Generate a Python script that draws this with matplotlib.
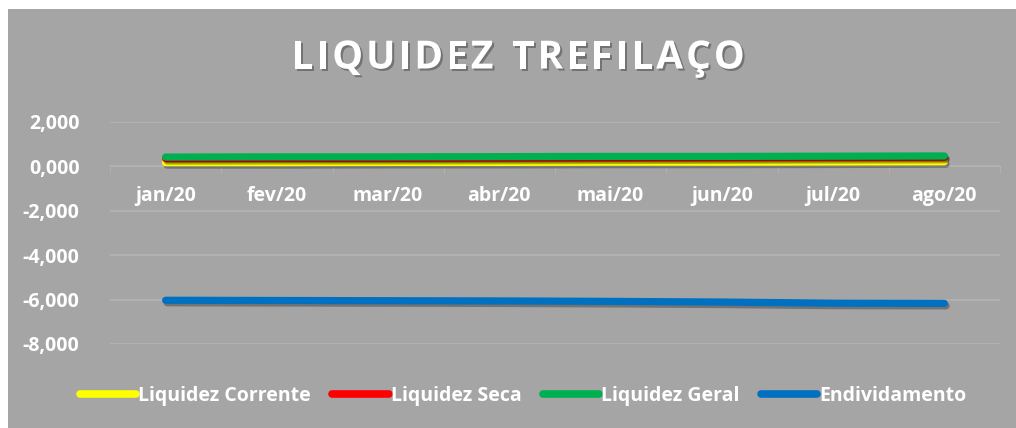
import numpy as np
import matplotlib.pyplot as plt
import matplotlib.patheffects as pe
from matplotlib.ticker import FuncFormatter, FixedLocator

plt.rcParams['font.family'] = ['Open Sans', 'DejaVu Sans']

# dados
titulo = 'LIQUIDEZ TREFILAÇO'
meses = ['jan/20', 'fev/20', 'mar/20', 'abr/20', 'mai/20', 'jun/20', 'jul/20', 'ago/20']
liq_corrente = [0.17, 0.17, 0.18, 0.18, 0.19, 0.19, 0.20, 0.21]
liq_seca = [0.35, 0.36, 0.36, 0.37, 0.38, 0.39, 0.40, 0.41]
liq_geral = [0.42, 0.43, 0.43, 0.44, 0.45, 0.45, 0.46, 0.47]
endividamento = [-6.03, -6.04, -6.05, -6.06, -6.08, -6.11, -6.16, -6.17]

cinza = '#A5A5A5'
fig = plt.figure(figsize=(10.16, 4.28), dpi=100, facecolor='white')
fig.patches.append(plt.Rectangle((8/1016, 0), 1, 1 - 9/428, transform=fig.transFigure,
                                 facecolor=cinza, edgecolor='none', zorder=-1))

ax = fig.add_axes([110/1016, 1 - 344/428, 890/1016, 222/428])
ax.set_facecolor('none')

x = np.arange(len(meses))
sombra = [pe.SimpleLineShadow(offset=(1.2, -1.8), shadow_color='black', alpha=0.3), pe.Normal()]
series = [(liq_corrente, '#FFFF00', 'Liquidez Corrente'),
          (liq_seca, '#FF0000', 'Liquidez Seca'),
          (liq_geral, '#00B050', 'Liquidez Geral'),
          (endividamento, '#0070C0', 'Endividamento')]
for vals, cor, nome in series:
    ax.plot(x, vals, color=cor, lw=5.2, solid_capstyle='round', label=nome, path_effects=sombra, zorder=3)

ax.set_xlim(-0.5, len(meses) - 0.5)
ax.set_ylim(-8, 2)
ax.set_yticks([2, 0, -2, -4, -6, -8])
ax.yaxis.set_major_formatter(FuncFormatter(lambda v, p: ('%.3f' % v).replace('.', ',').replace('-0,000', '0,000')))
ax.grid(axis='y', color='#B4B4B4', lw=1.2)
ax.set_axisbelow(True)

for s in ['top', 'right', 'left']:
    ax.spines[s].set_visible(False)
ax.spines['bottom'].set_position(('data', 0))
ax.spines['bottom'].set_color('#B4B4B4')

ax.set_xticks(x)
ax.set_xticklabels(meses)
ax.xaxis.set_minor_locator(FixedLocator(np.arange(-0.5, len(meses), 1)))
ax.tick_params(axis='x', which='major', length=0, pad=14, labelsize=14, labelcolor='white')
ax.tick_params(axis='x', which='minor', length=5, color='#B4B4B4', direction='out')
ax.tick_params(axis='y', length=0, pad=22, labelsize=14, labelcolor='white')
for lb in ax.get_xticklabels() + ax.get_yticklabels():
    lb.set_fontweight('bold')

# titulo com espacamento entre letras
r = fig.canvas.get_renderer()
sombra_txt = [pe.withSimplePatchShadow(offset=(1.5, -1.5), shadow_rgbFace='black', alpha=0.3)]
larg = []
for c in titulo:
    t = fig.text(0, 0, c if c != ' ' else 'I', fontsize=28, fontweight='bold')
    larg.append(t.get_window_extent(r).width)
    t.remove()
espaco = 3.0
total = sum(larg) + espaco * (len(titulo) - 1)
px = 1036 / 2 - total / 2
for c, w in zip(titulo, larg):
    if c != ' ':
        fig.text(px / 1016, 1 - 58/428, c, ha='left', va='center', color='white',
                 fontsize=28, fontweight='bold', path_effects=sombra_txt)
    px += w + espaco

leg = fig.legend(loc='center', bbox_to_anchor=(0.515, 1 - 396/428), ncol=4, frameon=False,
                 handlelength=2.9, handletextpad=0.1, columnspacing=1.1,
                 prop={'weight': 'bold', 'size': 14})
for t in leg.get_texts():
    t.set_color('white')
for h in leg.legend_handles:
    h.set_path_effects([])
    h.set_linewidth(5.5)

fig.savefig('out.png', dpi=100, facecolor='white')
